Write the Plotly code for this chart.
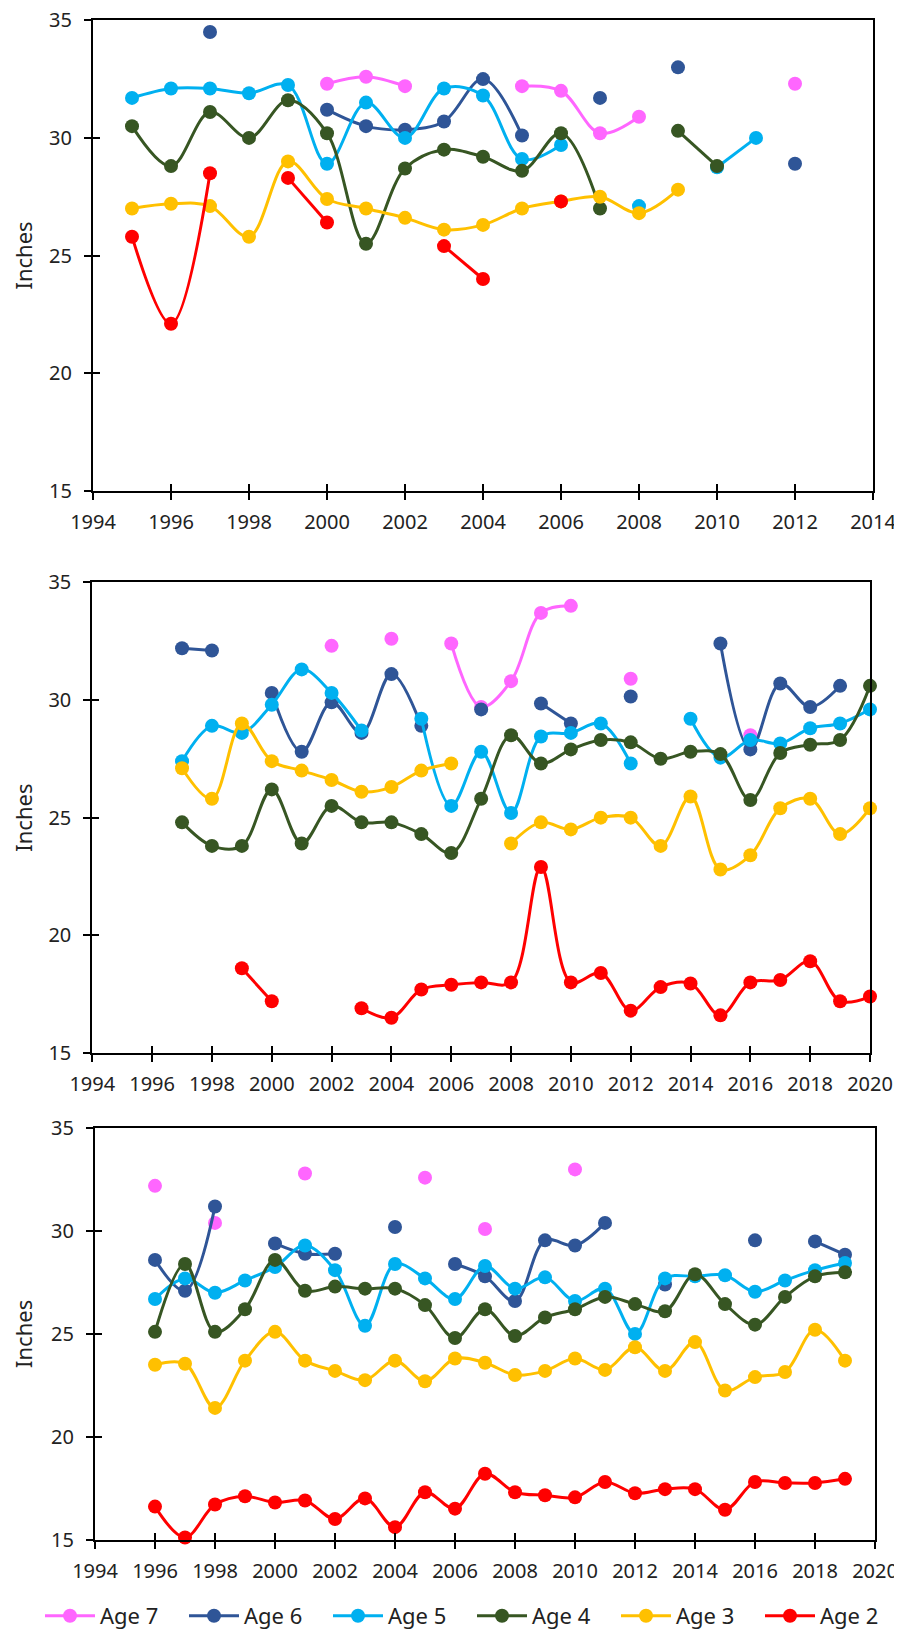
import plotly.graph_objects as go

N = None
# ---------------- data ----------------
ages = ["Age 7", "Age 6", "Age 5", "Age 4", "Age 3", "Age 2"]
colors = ["#FF66FF", "#2F5597", "#00B0F0", "#375623", "#FFC000", "#FF0000"]

# Panel A (top)
years_a = [1995, 1996, 1997, 1998, 1999, 2000, 2001, 2002, 2003, 2004, 2005, 2006,
           2007, 2008, 2009, 2010, 2011, 2012]
age7_a = [N, N, N, N, N, 32.3, 32.6, 32.2, N, N, 32.2, 32.0, 30.2, 30.9, N, N, N, 32.3]
age6_a = [N, N, 34.5, N, N, 31.2, 30.5, 30.35, 30.7, 32.5, 30.1, N, 31.7, N, 33.0, N, N, 28.9]
age5_a = [31.7, 32.1, 32.1, 31.9, 32.25, 28.9, 31.5, 30.0, 32.1, 31.8, 29.1, 29.7, N, 27.1, N, 28.75, 30.0, N]
age4_a = [30.5, 28.8, 31.1, 30.0, 31.6, 30.2, 25.5, 28.7, 29.5, 29.2, 28.6, 30.2, 27.0, N, 30.3, 28.8, N, N]
age3_a = [27.0, 27.2, 27.1, 25.8, 29.0, 27.4, 27.0, 26.6, 26.1, 26.3, 27.0, 27.3, 27.5, 26.8, 27.8, N, N, N]
age2_a = [25.8, 22.1, 28.5, N, 28.3, 26.4, N, N, 25.4, 24.0, N, 27.3, N, N, N, N, N, N]

# Panel B (middle)
years_b = [1997, 1998, 1999, 2000, 2001, 2002, 2003, 2004, 2005, 2006, 2007, 2008,
           2009, 2010, 2011, 2012, 2013, 2014, 2015, 2016, 2017, 2018, 2019, 2020]
age7_b = [N, N, N, N, N, 32.3, N, 32.6, N, 32.4, 29.7, 30.8, 33.7, 34.0, N, 30.9, N, N, N, 28.5, N, N, N, N]
age6_b = [32.2, 32.1, N, 30.3, 27.8, 29.9, 28.6, 31.1, 28.9, N, 29.6, N, 29.85, 29.0, N, 30.15, N, N, 32.4, 27.9, 30.7, 29.7, 30.6, N]
age5_b = [27.4, 28.9, 28.6, 29.8, 31.3, 30.3, 28.7, N, 29.2, 25.5, 27.8, 25.2, 28.45, 28.6, 29.0, 27.3, N, 29.2, 27.55, 28.3, 28.15, 28.8, 29.0, 29.6]
age4_b = [24.8, 23.8, 23.8, 26.2, 23.9, 25.5, 24.8, 24.8, 24.3, 23.5, 25.8, 28.5, 27.3, 27.9, 28.3, 28.2, 27.5, 27.8, 27.7, 25.75, 27.75, 28.1, 28.3, 30.6]
age3_b = [27.1, 25.8, 29.0, 27.4, 27.0, 26.6, 26.1, 26.3, 27.0, 27.3, N, 23.9, 24.8, 24.5, 25.0, 25.0, 23.8, 25.9, 22.8, 23.4, 25.4, 25.8, 24.3, 25.4]
age2_b = [N, N, 18.6, 17.2, N, N, 16.9, 16.5, 17.7, 17.9, 18.0, 18.0, 22.9, 18.0, 18.4, 16.8, 17.8, 17.95, 16.6, 18.0, 18.1, 18.9, 17.2, 17.4]

# Panel C (bottom)
years_c = [1996, 1997, 1998, 1999, 2000, 2001, 2002, 2003, 2004, 2005, 2006, 2007,
           2008, 2009, 2010, 2011, 2012, 2013, 2014, 2015, 2016, 2017, 2018, 2019]
age7_c = [32.2, N, 30.4, N, N, 32.8, N, N, N, 32.6, N, 30.1, N, N, 33.0, N, N, N, N, N, N, N, N, N]
age6_c = [28.6, 27.1, 31.2, N, 29.4, 28.9, 28.9, N, 30.2, N, 28.4, 27.8, 26.6, 29.55, 29.3, 30.4, N, 27.4, N, N, 29.55, N, 29.5, 28.85]
age5_c = [26.7, 27.7, 27.0, 27.6, 28.25, 29.3, 28.1, 25.4, 28.4, 27.7, 26.7, 28.3, 27.2, 27.75, 26.6, 27.2, 25.0, 27.7, 27.8, 27.85, 27.05, 27.6, 28.1, 28.45]
age4_c = [25.1, 28.4, 25.1, 26.2, 28.6, 27.1, 27.3, 27.2, 27.2, 26.4, 24.8, 26.2, 24.9, 25.8, 26.2, 26.8, 26.45, 26.1, 27.9, 26.45, 25.45, 26.8, 27.8, 28.0]
age3_c = [23.5, 23.55, 21.4, 23.7, 25.1, 23.7, 23.2, 22.75, 23.7, 22.7, 23.8, 23.6, 23.0, 23.2, 23.8, 23.25, 24.35, 23.2, 24.6, 22.25, 22.9, 23.15, 25.2, 23.7]
age2_c = [16.6, 15.1, 16.7, 17.1, 16.8, 16.9, 16.0, 17.0, 15.6, 17.3, 16.5, 18.2, 17.3, 17.15, 17.05, 17.8, 17.25, 17.45, 17.45, 16.45, 17.8, 17.75, 17.75, 17.95]

x_ticks_a = [1994, 1996, 1998, 2000, 2002, 2004, 2006, 2008, 2010, 2012, 2014]
x_ticks_bc = [1994, 1996, 1998, 2000, 2002, 2004, 2006, 2008, 2010, 2012, 2014, 2016, 2018, 2020]
y_ticks = [15, 20, 25, 30, 35]

panels = [
    (years_a, [age7_a, age6_a, age5_a, age4_a, age3_a, age2_a], [1994, 2014], x_ticks_a),
    (years_b, [age7_b, age6_b, age5_b, age4_b, age3_b, age2_b], [1994, 2020], x_ticks_bc),
    (years_c, [age7_c, age6_c, age5_c, age4_c, age3_c, age2_c], [1994, 2020], x_ticks_bc),
]

# ---------------- layout geometry (pixels in the page) ----------------
OFF = 8                      # default page body margin
W, H = 902 - OFF, 1637 - OFF
boxes = [  # left, right, top, bottom in page px
    (93, 873, 20.3, 490.7),
    (92.3, 870, 582.3, 1053),
    (95, 875, 1128.3, 1539.5),
]

FONT = "Noto Sans, Open Sans, sans-serif"
TXT = "#222222"
FS = 20

fig = go.Figure()
layout = dict(
    width=W, height=H, autosize=False,
    margin=dict(l=0, r=0, t=0, b=0, autoexpand=False),
    paper_bgcolor="white", plot_bgcolor="white",
    font=dict(family=FONT, size=FS, color=TXT),
    showlegend=True,
    legend=dict(orientation="h", x=(40 - OFF) / W, xanchor="left", y=0, yanchor="bottom",
                font=dict(size=22, color=TXT), entrywidth=79, entrywidthmode="pixels",
                traceorder="normal", bgcolor="rgba(0,0,0,0)", itemwidth=50),
)

for i, (yrs, series, xr, xt) in enumerate(panels):
    k = i + 1
    xa = "x" if k == 1 else f"x{k}"
    ya = "y" if k == 1 else f"y{k}"
    xo_n = k + 3
    yo_n = k + 3
    l, r, t, b = [v - OFF for v in boxes[i]]
    xdom = [l / W, r / W]
    ydom = [1 - b / H, 1 - t / H]
    for name, col, vals in zip(ages, colors, series):
        fig.add_trace(go.Scatter(
            x=yrs, y=vals, name=name, mode="lines+markers",
            line=dict(color=col, width=3, shape="spline", smoothing=1.0),
            marker=dict(color=col, size=14),
            connectgaps=False, cliponaxis=False,
            showlegend=(k == 1), legendgroup=name,
            xaxis=xa, yaxis=ya,
        ))
    axis_common = dict(showgrid=False, zeroline=False, linecolor="black", linewidth=2,
                       mirror=True, ticks="outside", ticklen=7, tickwidth=2, tickcolor="black",
                       tickfont=dict(size=FS, color=TXT), automargin=False,
                       ticklabeloverflow="allow")
    layout[f"xaxis{'' if k == 1 else k}"] = dict(
        domain=xdom, range=xr, tickvals=xt, anchor=ya, ticklabelstandoff=5, **axis_common)
    layout[f"yaxis{'' if k == 1 else k}"] = dict(
        domain=ydom, range=[15, 35], tickvals=y_ticks, anchor=xa, ticklabelstandoff=8,
        title=dict(text="Inches", font=dict(size=22, color=TXT), standoff=13), **axis_common)
    # overlay axes for inward half of the crossing ticks
    layout[f"xaxis{xo_n}"] = dict(overlaying=xa, range=xr, tickvals=xt, anchor=ya, automargin=False,
                                  showgrid=False, zeroline=False, showline=False, showticklabels=False,
                                  ticks="inside", ticklen=7, tickwidth=2, tickcolor="black")
    layout[f"yaxis{yo_n}"] = dict(overlaying=ya, range=[15, 35], tickvals=y_ticks, anchor=xa, automargin=False,
                                  showgrid=False, zeroline=False, showline=False, showticklabels=False,
                                  ticks="inside", ticklen=7, tickwidth=2, tickcolor="black")
    fig.add_trace(go.Scatter(x=[], y=[], showlegend=False, hoverinfo="skip",
                             xaxis=f"x{xo_n}", yaxis=ya))
    fig.add_trace(go.Scatter(x=[], y=[], showlegend=False, hoverinfo="skip",
                             xaxis=xa, yaxis=f"y{yo_n}"))

fig.update_layout(**layout)
fig.write_html("out.html")
